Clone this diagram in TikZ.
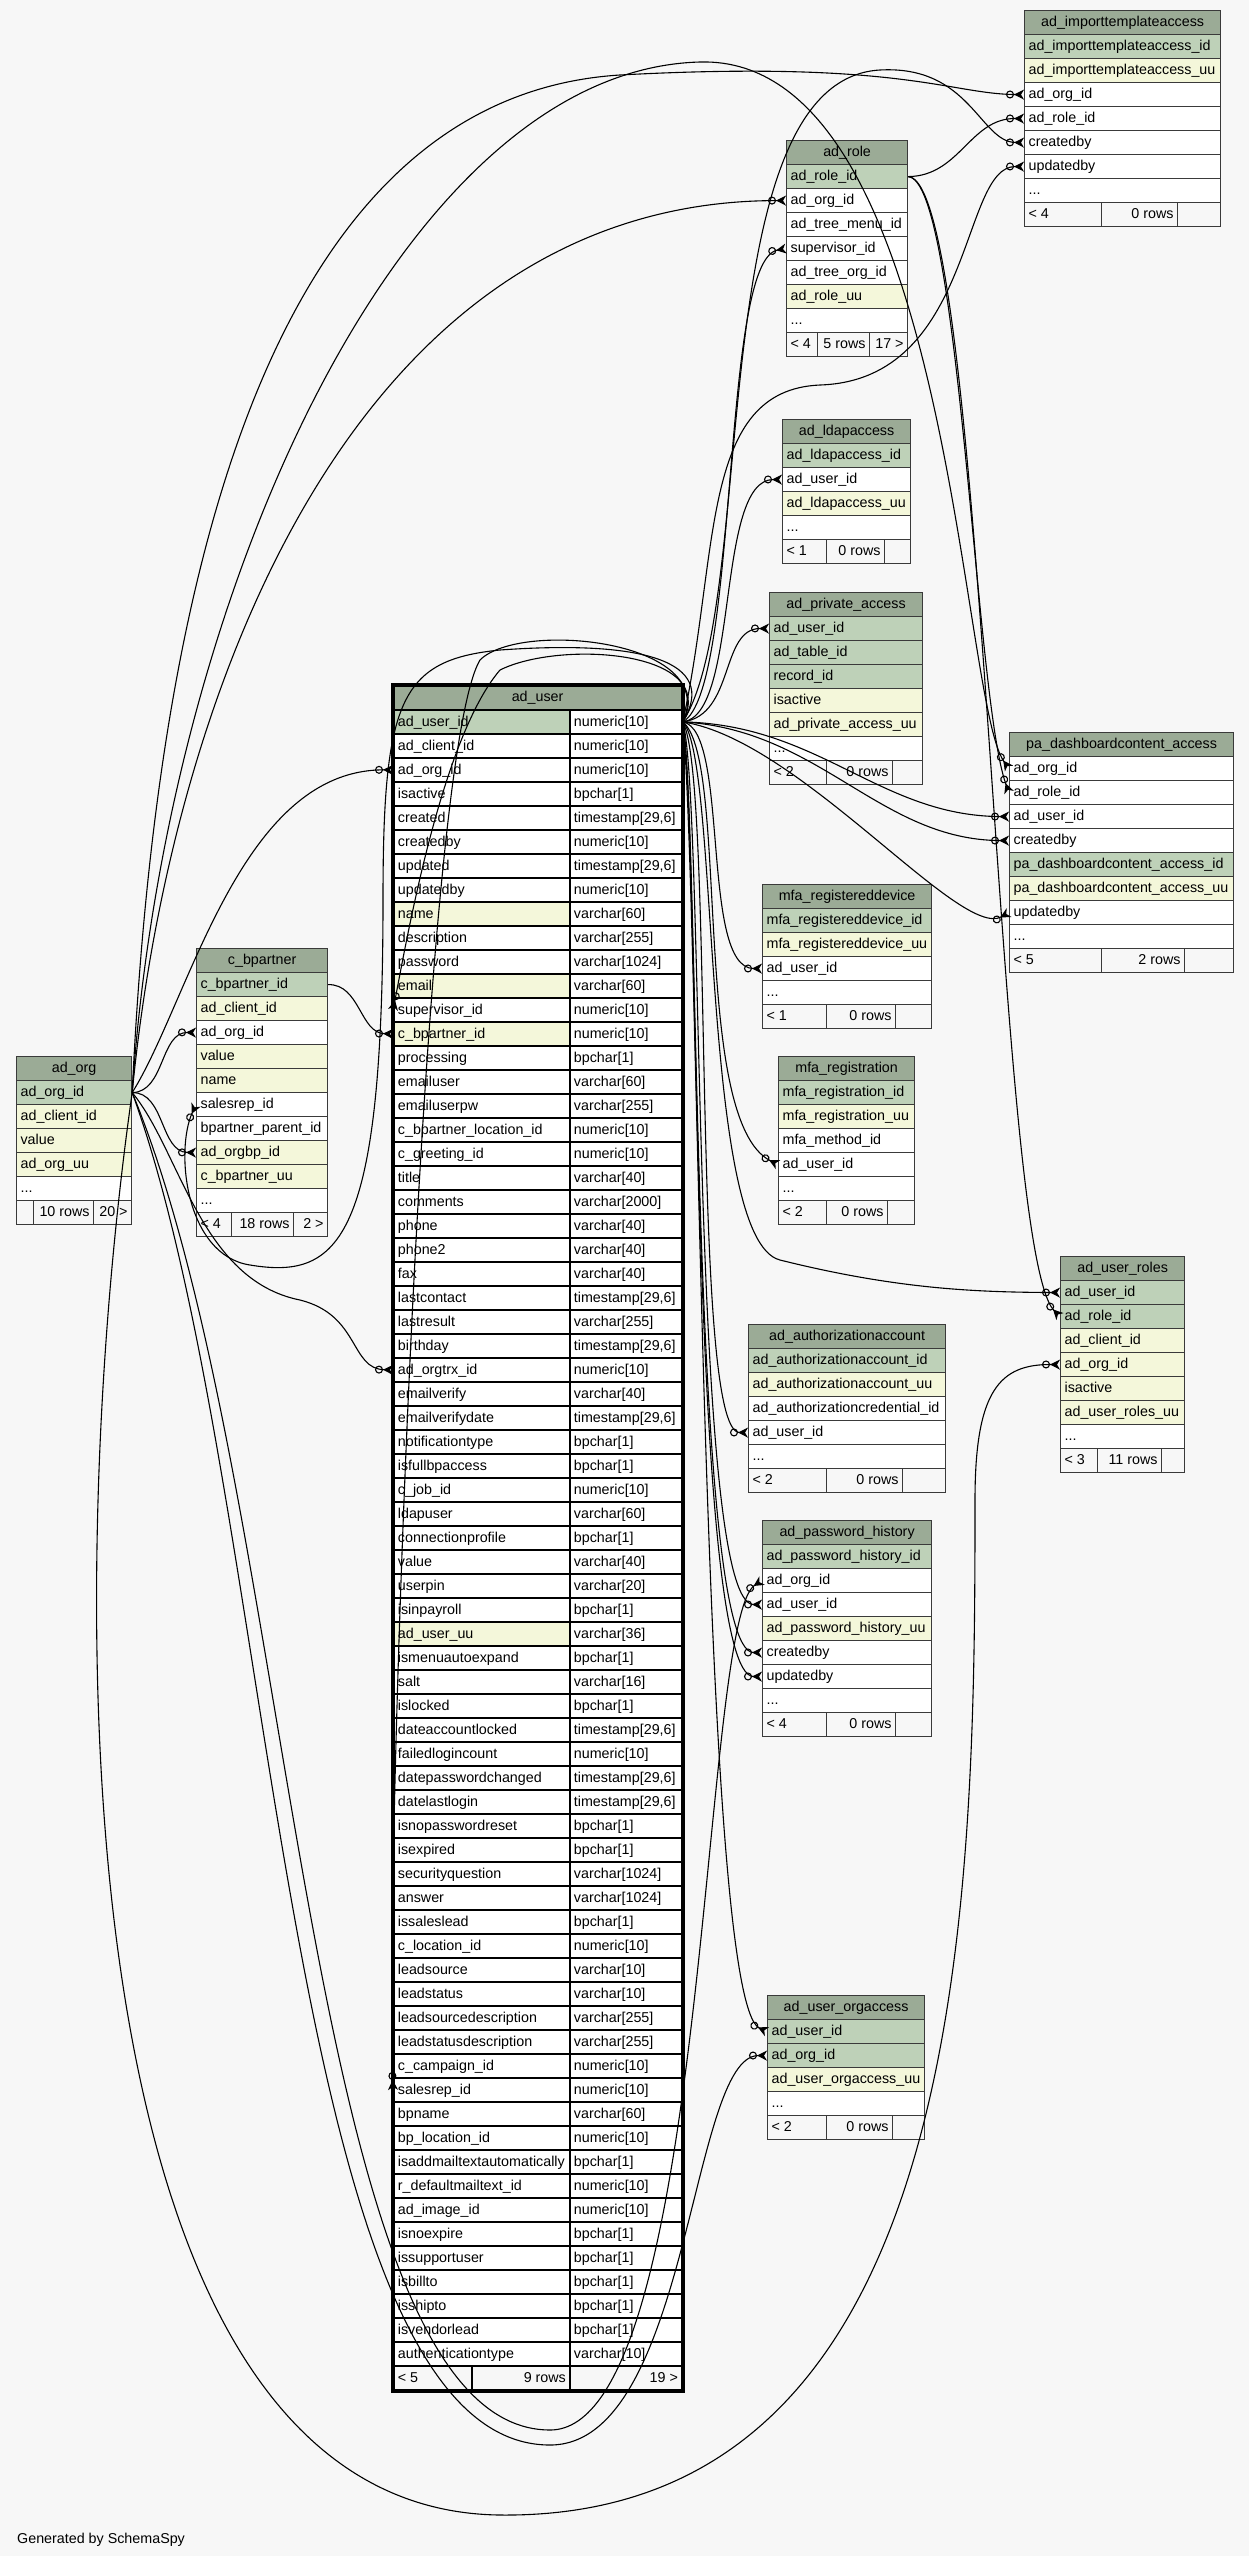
\documentclass[tikz,border=0pt]{standalone}
\usepackage{fontspec}
\setmainfont{Liberation Sans}
\usetikzlibrary{arrows.meta}
\definecolor{bgc}{HTML}{F7F7F7}
\definecolor{hdrc}{HTML}{9BAB96}
\definecolor{pkc}{HTML}{BED1B8}
\definecolor{idxc}{HTML}{F4F7DA}
\definecolor{linec}{HTML}{3A3A3A}
\newcommand\cstrut{\rule[-5.4pt]{0pt}{19.4pt}}
\tikzset{
 cell/.style={draw=linec, line width=1.2pt, inner xsep=4pt, inner ysep=0pt, minimum height=24pt, anchor=north west, font=\fontsize{14.3}{16}\selectfont},
 hdrcell/.style={cell, fill=hdrc},
 pkcell/.style={cell, fill=pkc},
 idxcell/.style={cell, fill=idxc},
 plaincell/.style={cell, fill=white},
 footcell/.style={cell, fill=bgc},
 ucell/.style={draw=black, line width=1.8pt},
 fk/.style={draw=black, line width=1.1pt, -{Circle[open,length=8pt,width=8pt] Stealth[reversed,length=10pt,width=10pt,inset=3pt]}},
}
\newcommand\TabHead[5]{%
  \xdef\tid{#1}\xdef\tx{#2}\xdef\tw{#4}%
  \pgfmathsetmacro\tmpw{#4-8}\xdef\tww{\tmpw}%
  \node[hdrcell] (#1) at (#2,#3) {\makebox[\tww pt][c]{\cstrut #5}};
  \pgfmathsetmacro\tyy{#3+24}\xdef\ty{\tyy}}
\newcommand\TabRow[3]{%
  \node[#2cell] (\tid-#1) at (\tx,\ty) {\makebox[\tww pt][l]{\cstrut #3}};
  \pgfmathsetmacro\tyy{\ty+24}\xdef\ty{\tyy}}
\newcommand\TabFoot[6][]{%
  \pgfmathsetmacro\wa{#5-\tx-8}\pgfmathsetmacro\wb{#6-#5-8}\pgfmathsetmacro\wc{\tx+\tw-#6-8}%
  \node[footcell,#1] (\tid-fa) at (\tx,\ty) {\makebox[\wa pt][l]{\cstrut #2}};
  \node[footcell,#1] (\tid-fb) at (#5,\ty) {\makebox[\wb pt][r]{\cstrut #3}};
  \node[footcell,#1] (\tid-fc) at (#6,\ty) {\makebox[\wc pt][r]{\cstrut #4}};}
\begin{document}
\begin{tikzpicture}[x=1pt,y=-1pt]
\fill[bgc] (0,0) rectangle (1249,2556);
\useasboundingbox (0,0) rectangle (1249,2556);

% ad_org
\TabHead{ao}{16}{1056}{115}{ad\_org}
\TabRow{pk}{pk}{ad\_org\_id}
\TabRow{client}{idx}{ad\_client\_id}
\TabRow{value}{idx}{value}
\TabRow{uu}{idx}{ad\_org\_uu}
\TabRow{more}{plain}{...}
\TabFoot{}{10 rows}{20 >}{33}{93}

% c_bpartner
\TabHead{cb}{196}{948}{131}{c\_bpartner}
\TabRow{pk}{pk}{c\_bpartner\_id}
\TabRow{client}{idx}{ad\_client\_id}
\TabRow{org}{plain}{ad\_org\_id}
\TabRow{value}{idx}{value}
\TabRow{name}{idx}{name}
\TabRow{salesrep}{plain}{salesrep\_id}
\TabRow{parent}{plain}{bpartner\_parent\_id}
\TabRow{orgbp}{idx}{ad\_orgbp\_id}
\TabRow{uu}{idx}{c\_bpartner\_uu}
\TabRow{more}{plain}{...}
\TabFoot{< 4}{18 rows}{2 >}{231}{293}

% ad_importtemplateaccess
\TabHead{it}{1024}{10}{196}{ad\_importtemplateaccess}
\TabRow{pk}{pk}{ad\_importtemplateaccess\_id}
\TabRow{uu}{idx}{ad\_importtemplateaccess\_uu}
\TabRow{org}{plain}{ad\_org\_id}
\TabRow{role}{plain}{ad\_role\_id}
\TabRow{cby}{plain}{createdby}
\TabRow{uby}{plain}{updatedby}
\TabRow{more}{plain}{...}
\TabFoot{< 4}{0 rows}{}{1101}{1177}

% ad_role
\TabHead{ar}{786}{140}{121}{ad\_role}
\TabRow{pk}{pk}{ad\_role\_id}
\TabRow{org}{plain}{ad\_org\_id}
\TabRow{menu}{plain}{ad\_tree\_menu\_id}
\TabRow{sup}{plain}{supervisor\_id}
\TabRow{tree}{plain}{ad\_tree\_org\_id}
\TabRow{uu}{idx}{ad\_role\_uu}
\TabRow{more}{plain}{...}
\TabFoot{< 4}{5 rows}{17 >}{817}{869}

% ad_ldapaccess
\TabHead{ld}{782}{419}{128}{ad\_ldapaccess}
\TabRow{pk}{pk}{ad\_ldapaccess\_id}
\TabRow{user}{plain}{ad\_user\_id}
\TabRow{uu}{idx}{ad\_ldapaccess\_uu}
\TabRow{more}{plain}{...}
\TabFoot{< 1}{0 rows}{}{826}{884}

% ad_private_access
\TabHead{pv}{769}{592}{153}{ad\_private\_access}
\TabRow{user}{pk}{ad\_user\_id}
\TabRow{table}{pk}{ad\_table\_id}
\TabRow{rec}{pk}{record\_id}
\TabRow{active}{idx}{isactive}
\TabRow{uu}{idx}{ad\_private\_access\_uu}
\TabRow{more}{plain}{...}
\TabFoot{< 2}{0 rows}{}{826}{892}

% pa_dashboardcontent_access
\TabHead{pd}{1009}{732}{224}{pa\_dashboardcontent\_access}
\TabRow{org}{plain}{ad\_org\_id}
\TabRow{role}{plain}{ad\_role\_id}
\TabRow{user}{plain}{ad\_user\_id}
\TabRow{cby}{plain}{createdby}
\TabRow{pk}{pk}{pa\_dashboardcontent\_access\_id}
\TabRow{uu}{idx}{pa\_dashboardcontent\_access\_uu}
\TabRow{uby}{plain}{updatedby}
\TabRow{more}{plain}{...}
\TabFoot{< 5}{2 rows}{}{1101}{1184}

% mfa_registereddevice
\TabHead{rd}{762}{884}{169}{mfa\_registereddevice}
\TabRow{pk}{pk}{mfa\_registereddevice\_id}
\TabRow{uu}{idx}{mfa\_registereddevice\_uu}
\TabRow{user}{plain}{ad\_user\_id}
\TabRow{more}{plain}{...}
\TabFoot{< 1}{0 rows}{}{826}{895}

% mfa_registration
\TabHead{mr}{778}{1056}{136}{mfa\_registration}
\TabRow{pk}{pk}{mfa\_registration\_id}
\TabRow{uu}{idx}{mfa\_registration\_uu}
\TabRow{method}{plain}{mfa\_method\_id}
\TabRow{user}{plain}{ad\_user\_id}
\TabRow{more}{plain}{...}
\TabFoot{< 2}{0 rows}{}{826}{887}

% ad_user_roles
\TabHead{ur}{1060}{1256}{124}{ad\_user\_roles}
\TabRow{user}{pk}{ad\_user\_id}
\TabRow{role}{pk}{ad\_role\_id}
\TabRow{client}{idx}{ad\_client\_id}
\TabRow{org}{idx}{ad\_org\_id}
\TabRow{active}{idx}{isactive}
\TabRow{uu}{idx}{ad\_user\_roles\_uu}
\TabRow{more}{plain}{...}
\TabFoot{< 3}{11 rows}{}{1097}{1161}

% ad_authorizationaccount
\TabHead{aa}{748}{1324}{197}{ad\_authorizationaccount}
\TabRow{pk}{pk}{ad\_authorizationaccount\_id}
\TabRow{uu}{idx}{ad\_authorizationaccount\_uu}
\TabRow{cred}{plain}{ad\_authorizationcredential\_id}
\TabRow{user}{plain}{ad\_user\_id}
\TabRow{more}{plain}{...}
\TabFoot{< 2}{0 rows}{}{826}{902}

% ad_password_history
\TabHead{ph}{762}{1520}{169}{ad\_password\_history}
\TabRow{pk}{pk}{ad\_password\_history\_id}
\TabRow{org}{plain}{ad\_org\_id}
\TabRow{user}{plain}{ad\_user\_id}
\TabRow{uu}{idx}{ad\_password\_history\_uu}
\TabRow{cby}{plain}{createdby}
\TabRow{uby}{plain}{updatedby}
\TabRow{more}{plain}{...}
\TabFoot{< 4}{0 rows}{}{826}{895}

% ad_user_orgaccess
\TabHead{uo}{767}{1995}{157}{ad\_user\_orgaccess}
\TabRow{user}{pk}{ad\_user\_id}
\TabRow{org}{pk}{ad\_org\_id}
\TabRow{uu}{idx}{ad\_user\_orgaccess\_uu}
\TabRow{more}{plain}{...}
\TabFoot{< 2}{0 rows}{}{826}{892}

% ad_user
\TabHead{u}{393}{685}{288}{ad\_user}
\foreach \s/\n/\t [count=\i] in {
 pk/ad\_user\_id/numeric[10], plain/ad\_client\_id/numeric[10], plain/ad\_org\_id/numeric[10],
 plain/isactive/bpchar[1], plain/created/{timestamp[29,6]}, plain/createdby/numeric[10],
 plain/updated/{timestamp[29,6]}, plain/updatedby/numeric[10], idx/name/varchar[60],
 plain/description/varchar[255], plain/password/varchar[1024], idx/email/varchar[60],
 plain/supervisor\_id/numeric[10], idx/c\_bpartner\_id/numeric[10], plain/processing/bpchar[1],
 plain/emailuser/varchar[60], plain/emailuserpw/varchar[255], plain/c\_bpartner\_location\_id/numeric[10],
 plain/c\_greeting\_id/numeric[10], plain/title/varchar[40], plain/comments/varchar[2000],
 plain/phone/varchar[40], plain/phone2/varchar[40], plain/fax/varchar[40],
 plain/lastcontact/{timestamp[29,6]}, plain/lastresult/varchar[255], plain/birthday/{timestamp[29,6]},
 plain/ad\_orgtrx\_id/numeric[10], plain/emailverify/varchar[40], plain/emailverifydate/{timestamp[29,6]},
 plain/notificationtype/bpchar[1], plain/isfullbpaccess/bpchar[1], plain/c\_job\_id/numeric[10],
 plain/ldapuser/varchar[60], plain/connectionprofile/bpchar[1], plain/value/varchar[40],
 plain/userpin/varchar[20], plain/isinpayroll/bpchar[1], idx/ad\_user\_uu/varchar[36],
 plain/ismenuautoexpand/bpchar[1], plain/salt/varchar[16], plain/islocked/bpchar[1],
 plain/dateaccountlocked/{timestamp[29,6]}, plain/failedlogincount/numeric[10], plain/datepasswordchanged/{timestamp[29,6]},
 plain/datelastlogin/{timestamp[29,6]}, plain/isnopasswordreset/bpchar[1], plain/isexpired/bpchar[1],
 plain/securityquestion/varchar[1024], plain/answer/varchar[1024], plain/issaleslead/bpchar[1],
 plain/c\_location\_id/numeric[10], plain/leadsource/varchar[10], plain/leadstatus/varchar[10],
 plain/leadsourcedescription/varchar[255], plain/leadstatusdescription/varchar[255], plain/c\_campaign\_id/numeric[10],
 plain/salesrep\_id/numeric[10], plain/bpname/varchar[60], plain/bp\_location\_id/numeric[10],
 plain/isaddmailtextautomatically/bpchar[1], plain/r\_defaultmailtext\_id/numeric[10], plain/ad\_image\_id/numeric[10],
 plain/isnoexpire/bpchar[1], plain/issupportuser/bpchar[1], plain/isbillto/bpchar[1],
 plain/isshipto/bpchar[1], plain/isvendorlead/bpchar[1], plain/authenticationtype/varchar[10]} {
  \pgfmathsetmacro\ry{709+24*(\i-1)}
  \node[\s cell, ucell] (u-\i) at (393,\ry) {\makebox[168pt][l]{\cstrut \n}};
  \node[plaincell, ucell] (u-\i-t) at (569,\ry) {\makebox[104pt][l]{\cstrut \t}};
}
\xdef\ty{2365}
\TabFoot[ucell]{< 5}{9 rows}{19 >}{471}{569}
\draw[line width=3.5pt] (u.north west) rectangle (u-fc.south east);

\node[anchor=base west, inner sep=0pt, font=\fontsize{14.3}{16}\selectfont] (gen) at (17,2543) {Generated by SchemaSpy};

% ---- connectors from ad_user.ad_user_id
\draw[fk] (u-1-t.east) .. controls (740,715) and (715,479) .. (ld-user.west);
\draw[fk] (u-1-t.east) .. controls (735,715) and (720,628) .. (pv-user.west);
\draw[fk] (u-1-t.east) .. controls (730,730) and (700,968) .. (rd-user.west);
\draw[fk] (u-1-t.east) .. controls (730,760) and (690,1120) .. (mr-user.west);
\draw[fk] (u-1-t.east) .. controls (715,780) and (690,1432) .. (aa-user.west);
\draw[fk] (u-1-t.east) .. controls (705,800) and (690,1604) .. (ph-user.west);
\draw[fk] (u-1-t.east) .. controls (700,820) and (690,1652) .. (ph-cby.west);
\draw[fk] (u-1-t.east) .. controls (700,840) and (690,1676) .. (ph-uby.west);
\draw[fk] (u-1-t.east) .. controls (700,900) and (700,2000) .. (uo-user.west);
\draw[fk] (u-1-t.east) .. controls (720,760) and (700,1240) .. (780,1260) .. controls (900,1290) and (980,1292) .. (ur-user.west);
\draw[fk] (u-1-t.east) .. controls (820,725) and (880,816) .. (pd-user.west);
\draw[fk] (u-1-t.east) .. controls (820,730) and (880,840) .. (pd-cby.west);
\draw[fk] (u-1-t.east) .. controls (800,740) and (960,940) .. (pd-uby.west);
\draw[fk] (u-1-t.east) .. controls (760,600) and (700,80) .. (880,70) .. controls (970,65) and (980,142) .. (it-cby.west);
\draw[fk] (u-1-t.east) .. controls (720,550) and (700,390) .. (820,385) .. controls (975,380) and (960,166) .. (it-uby.west);
\draw[fk] (u-1-t.east) .. controls (740,690) and (720,260) .. (ar-sup.west);
\draw[fk] (u-1-t.east) .. controls (720,660) and (640,640) .. (500,650) .. controls (400,660) and (383,700) .. (383,900) .. controls (383,1240) and (340,1280) .. (250,1265) .. controls (185,1255) and (175,1150) .. (cb-salesrep.west);
\draw[fk] (u-1-t.east) .. controls (720,650) and (560,640) .. (500,670) .. controls (440,740) and (405,950) .. (u-13.west);
\draw[fk] (u-1-t.east) .. controls (720,640) and (520,620) .. (480,660) .. controls (420,760) and (385,1900) .. (u-58.west);

% ---- connectors from ad_org.ad_org_id
\draw[fk] (ao-pk.east) .. controls (165,1092) and (160,1032) .. (cb-org.west);
\draw[fk] (ao-pk.east) .. controls (165,1092) and (160,1152) .. (cb-orgbp.west);
\draw[fk] (ao-pk.east) .. controls (190,1000) and (240,769) .. (u-3.west);
\draw[fk] (ao-pk.east) .. controls (180,1150) and (200,1280) .. (300,1300) .. controls (360,1315) and (350,1369) .. (u-28.west);
\draw[fk] (ao-pk.east) .. controls (160,500) and (300,95) .. (620,75) .. controls (900,60) and (950,94) .. (it-org.west);
\draw[fk] (ao-pk.east) .. controls (170,700) and (350,200) .. (ar-org.west);
\draw[fk] (ao-pk.east) .. controls (165,600) and (400,70) .. (700,62) .. controls (950,55) and (960,700) .. (pd-org.west);
\draw[fk] (ao-pk.east) .. controls (60,1600) and (60,2510) .. (500,2515) .. controls (970,2520) and (975,1900) .. (975,1500) .. controls (975,1390) and (1000,1364) .. (ur-org.west);
\draw[fk] (ao-pk.east) .. controls (300,1500) and (300,2430) .. (550,2430) .. controls (710,2430) and (700,1620) .. (ph-org.west);
\draw[fk] (ao-pk.east) .. controls (280,1500) and (280,2445) .. (550,2445) .. controls (690,2445) and (690,2055) .. (uo-org.west);

% ---- connectors from ad_role.ad_role_id
\draw[fk] (ar-pk.east) .. controls (960,176) and (970,118) .. (it-role.west);
\draw[fk] (ar-pk.east) .. controls (960,180) and (975,700) .. (pd-role.west);
\draw[fk] (ar-pk.east) .. controls (985,180) and (995,1250) .. (ur-role.west);

% ---- c_bpartner.c_bpartner_id
\draw[fk] (cb-pk.east) .. controls (360,984) and (360,1033) .. (u-14.west);
\end{tikzpicture}
\end{document}
